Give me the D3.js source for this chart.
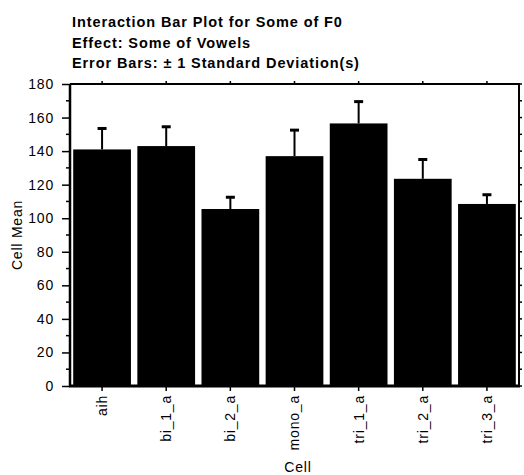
<!DOCTYPE html>
<html>
<head>
<meta charset="utf-8">
<script src="https://cdn.jsdelivr.net/npm/d3@7"></script>
<style>
  html, body { margin: 0; padding: 0; background: #fff; }
  svg { display: block; }
  text { font-family: "Liberation Sans", Arial, sans-serif; fill: #000; }
</style>
</head>
<body>
<svg id="chart" width="524" height="475"></svg>
<script>
const titleLines = ["Interaction Bar Plot for Some of F0", "Effect: Some of Vowels", "Error Bars: \u00b1 1 Standard Deviation(s)"];
const categories = ["aih", "bi_1_a", "bi_2_a", "mono_a", "tri_1_a", "tri_2_a", "tri_3_a"];
const means = [141, 143, 105.5, 137, 156.5, 123.5, 108.5];
const sds = [12.5, 11.5, 7, 15.5, 13, 11.5, 5.5];
const yTicks = [0, 20, 40, 60, 80, 100, 120, 140, 160, 180];
const yLabel = "Cell Mean";
const xLabel = "Cell";

const svg = d3.select("#chart");
const m = { left: 70, right: 519, top: 84, bottom: 386 };

const x = d3.scaleBand().domain(categories).range([m.left, m.right]).paddingInner(0.1).paddingOuter(0.05);
const y = d3.scaleLinear().domain([0, 180]).range([m.bottom, m.top]);

// title
svg.append("g").selectAll("text").data(titleLines).join("text")
  .attr("x", 72).attr("y", (d, i) => 27 + i * 20.5)
  .attr("font-size", 14.5).attr("font-weight", "bold").attr("letter-spacing", 0.9)
  .text(d => d);

// bars
svg.append("g").selectAll("rect").data(categories).join("rect")
  .attr("x", d => x(d)).attr("width", x.bandwidth())
  .attr("y", (d, i) => y(means[i]))
  .attr("height", (d, i) => y(0) - y(means[i]))
  .attr("fill", "#000");

// error bars
const eb = svg.append("g").attr("stroke", "#000").attr("stroke-width", 2);
categories.forEach((c, i) => {
  const cx = x(c) + x.bandwidth() / 2;
  eb.append("line").attr("x1", cx).attr("x2", cx).attr("y1", y(means[i])).attr("y2", y(means[i] + sds[i]));
  eb.append("line").attr("x1", cx - 4.5).attr("x2", cx + 4.5).attr("y1", y(means[i] + sds[i])).attr("y2", y(means[i] + sds[i])).attr("stroke-width", 3);
});

// left axis
const yAxis = d3.axisLeft(y).tickValues(yTicks).tickSize(8).tickPadding(8).tickFormat(d3.format("d"));
const gy = svg.append("g").attr("transform", `translate(${m.left},0)`).call(yAxis);
gy.select(".domain").remove();
gy.selectAll(".tick line").attr("stroke", "#000").attr("stroke-width", 1.5);
gy.selectAll(".tick text").attr("font-size", 14).attr("letter-spacing", 0.8).attr("font-family", "Liberation Sans, Arial, sans-serif").attr("fill", "#000");
// minor ticks left
const minor = d3.range(10, 180, 20);
svg.append("g").selectAll("line").data(minor).join("line")
  .attr("x1", m.left - 4).attr("x2", m.left).attr("y1", d => y(d)).attr("y2", d => y(d))
  .attr("stroke", "#000").attr("stroke-width", 1.5);

// right minor ticks
svg.append("g").selectAll("line").data(d3.range(0, 181, 10)).join("line")
  .attr("x1", m.right).attr("x2", m.right + 3).attr("y1", d => y(d)).attr("y2", d => y(d))
  .attr("stroke", "#000").attr("stroke-width", 1.5);

// bottom axis
const xAxis = d3.axisBottom(x).tickSize(5).tickPadding(6);
const gx = svg.append("g").attr("transform", `translate(0,${m.bottom})`).call(xAxis);
gx.select(".domain").remove();
gx.selectAll(".tick line").attr("stroke", "#000").attr("stroke-width", 1.5);
gx.selectAll(".tick text")
  .attr("font-size", 14).attr("letter-spacing", 0.8).attr("font-family", "Liberation Sans, Arial, sans-serif").attr("fill", "#000")
  .attr("transform", "rotate(-90)")
  .attr("text-anchor", "end").attr("dy", "0.35em")
  .attr("x", -9).attr("y", 0);

// top ticks at categories
svg.append("g").selectAll("line").data(categories).join("line")
  .attr("x1", d => x(d) + x.bandwidth() / 2).attr("x2", d => x(d) + x.bandwidth() / 2)
  .attr("y1", m.top).attr("y2", m.top - 3)
  .attr("stroke", "#000").attr("stroke-width", 1.5);

// frame
const frame = svg.append("g").attr("stroke", "#000").attr("fill", "none");
frame.append("line").attr("x1", m.left).attr("x2", m.left).attr("y1", m.top).attr("y2", m.bottom + 1).attr("stroke-width", 2.5);
frame.append("line").attr("x1", m.left).attr("x2", m.right + 1).attr("y1", m.top).attr("y2", m.top).attr("stroke-width", 2);
frame.append("line").attr("x1", m.right).attr("x2", m.right).attr("y1", m.top).attr("y2", m.bottom + 1).attr("stroke-width", 2);
frame.append("line").attr("x1", m.left - 1).attr("x2", m.right + 1).attr("y1", m.bottom).attr("y2", m.bottom).attr("stroke-width", 3);

// axis labels
svg.append("text").attr("transform", `translate(22,${(m.top + m.bottom) / 2}) rotate(-90)`)
  .attr("text-anchor", "middle").attr("font-size", 14).attr("letter-spacing", 0.8).text(yLabel);
svg.append("text").attr("x", 298).attr("y", 472)
  .attr("text-anchor", "middle").attr("font-size", 14).attr("letter-spacing", 0.8).text(xLabel);
</script>
</body>
</html>
